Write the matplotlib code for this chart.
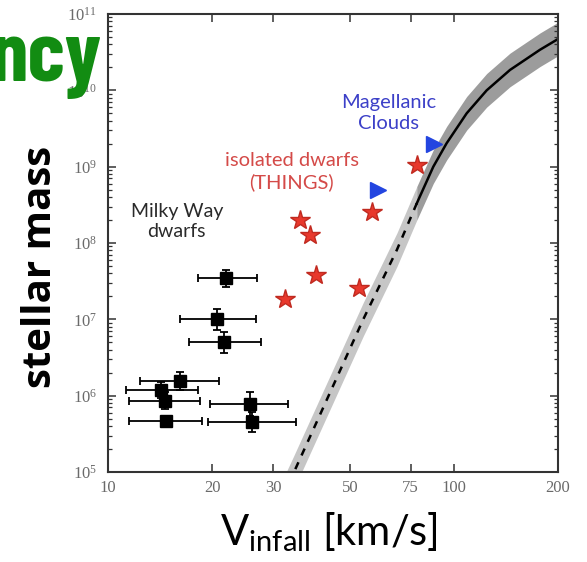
import numpy as np
import matplotlib
matplotlib.use("Agg")
import matplotlib.pyplot as plt
from matplotlib.ticker import FixedLocator, NullLocator, LogLocator

# Milky Way dwarfs (squares with error bars)
mw_v = [22.0, 20.6, 21.7, 16.1, 14.2, 14.6, 14.7, 25.7, 26.1]
mw_v_lo = [18.2, 16.1, 17.1, 12.4, 11.3, 11.5, 11.5, 19.7, 19.4]
mw_v_hi = [26.9, 26.7, 27.7, 20.9, 18.2, 18.4, 18.7, 33.2, 35.0]
mw_m = [3.46e7, 1.0e7, 5.0e6, 1.57e6, 1.19e6, 8.6e5, 4.66e5, 7.8e5, 4.5e5]
mw_m_err_dex = [0.11, 0.14, 0.14, 0.12, 0.11, 0.11, 0.07, 0.16, 0.13]

# isolated dwarfs (THINGS)
things_v = [32.5, 39.9, 53.3, 35.9, 38.5, 57.8, 78.1]
things_m = [1.83e7, 3.82e7, 2.56e7, 2.01e8, 1.28e8, 2.58e8, 1.04e9]

# Magellanic Clouds
mc_v = [60.4, 87.6]
mc_m = [4.97e8, 1.99e9]

# abundance matching relation
curve_v = [32.0, 34.5, 54.7, 68.4, 78.1, 87.2, 95.3, 108.9, 124.4, 145.3, 177.4, 200.0]
curve_m = [4.8e4, 1.0e5, 1.0e7, 8.1e7, 3.3e8, 1.0e9, 2.03e9, 5.0e9, 1.0e10, 1.85e10, 3.4e10, 4.7e10]
band_dex = 0.22
v_split = 78.1

xticks = [10, 20, 30, 50, 75, 100, 200]

fig = plt.figure(figsize=(5.87, 5.62), dpi=100)
ax = fig.add_axes([108/587, 90/562, 450/587, 458/562])
ax.set_xscale("log")
ax.set_yscale("log")

cv = np.array(curve_v)
cm = np.array(curve_m)
lo = cm / 10**band_dex
hi = cm * 10**band_dex
low_part = cv <= v_split
up_part = cv >= v_split
ax.fill_between(cv[low_part], lo[low_part], hi[low_part], color="#c6c6c6", lw=0, zorder=1)
ax.fill_between(cv[up_part], lo[up_part], hi[up_part], color="#9c9c9c", lw=0, zorder=1)
ax.plot(cv[low_part], cm[low_part], color="black", lw=1.8, ls=(0, (3, 3)), zorder=2)
ax.plot(cv[up_part], cm[up_part], color="black", lw=1.8, zorder=2)

v = np.array(mw_v)
m = np.array(mw_m)
xerr = [v - np.array(mw_v_lo), np.array(mw_v_hi) - v]
ed = np.array(mw_m_err_dex)
yerr = [m - m / 10**ed, m * 10**ed - m]
ax.errorbar(v, m, xerr=xerr, yerr=yerr, fmt="s", color="black", ms=9,
            elinewidth=1.3, capsize=3, capthick=1.3, zorder=4)

ax.plot(things_v, things_m, "*", color="#e8382c", mec="#c02a20", ms=15, zorder=5)
ax.plot(mc_v, mc_m, ">", color="#2345e0", mec="#2345e0", ms=11, zorder=5)

ax.text(15.8, 1.9e8, "Milky Way\ndwarfs", ha="center", va="center", color="#2a2a2a",
        family="Lato", fontsize=14, linespacing=1.2)
ax.text(34.0, 8.6e8, "isolated dwarfs\n(THINGS)", ha="center", va="center", color="#d44a48",
        family="Lato", fontsize=14.5, linespacing=1.3)
ax.text(64.6, 5.0e9, "Magellanic\nClouds", ha="center", va="center", color="#3c40c8",
        family="Lato", fontsize=14.5, linespacing=1.3)

ax.set_xlim(10, 200)
ax.set_ylim(1e5, 1e11)
ax.xaxis.set_major_locator(FixedLocator(xticks))
ax.xaxis.set_minor_locator(NullLocator())
ax.set_xticklabels([str(t) for t in xticks])
ax.yaxis.set_major_locator(LogLocator(base=10, numticks=10))
ax.yaxis.set_minor_locator(LogLocator(base=10, subs=np.arange(2, 10), numticks=20))
ax.tick_params(which="both", direction="in", top=True, right=True, color="#333333")
ax.tick_params(which="major", length=6, width=1.1)
ax.tick_params(which="minor", length=3, width=0.9)
ax.tick_params(axis="y", which="major", pad=8)
ax.tick_params(axis="x", which="major", pad=6)
for lab in ax.get_xticklabels() + ax.get_yticklabels():
    lab.set_family("Liberation Serif")
    lab.set_fontsize(12)
    lab.set_color("#6a6a6a")
for s in ax.spines.values():
    s.set_linewidth(1.5)
    s.set_color("#333333")

fig.text(41/587, 1 - 267/562, "stellar mass", rotation=90, ha="center", va="center",
         family="Open Sans", fontweight="bold", fontsize=29)
fig.text(329/587, 1 - 532/562, r"$\mathregular{V_{infall}}$ [km/s]", ha="center", va="center",
         family="Lato", fontsize=30)
# slide title fragment, cut at the left edge
fig.text(102/587, 1 - 81/562, "ncy", ha="right", va="baseline", color="#128c12",
         family=["Barlow Condensed", "Liberation Sans"], fontweight="bold", fontsize=62)

fig.savefig("out.png", dpi=100)
